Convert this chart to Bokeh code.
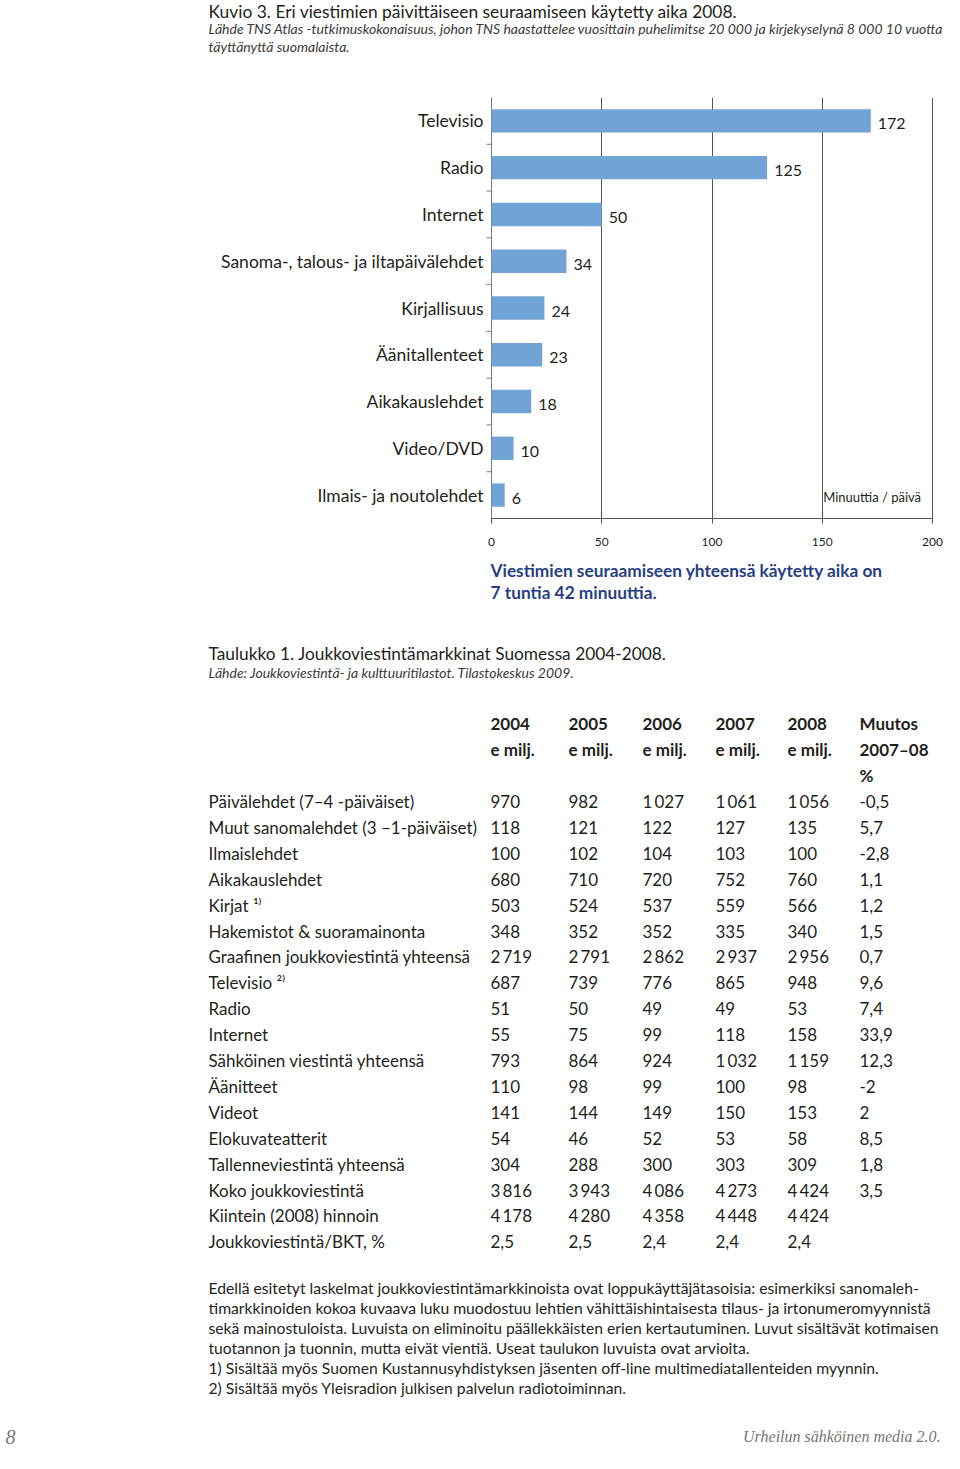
import math
from bokeh.plotting import figure
from bokeh.layouts import column
from bokeh.models import Range1d, FixedTicker, Label, ColumnDataSource, Grid
from bokeh.core.properties import value
from bokeh.embed import file_html
from bokeh.resources import INLINE

FONT = "Lato"
SERIF = "Liberation Serif"
TXT = "#231f20"
BAR = "#72a3d7"
BLUE_TXT = "#263f86"

# ---------------- data ----------------
title = "Kuvio 3. Eri viestimien päivittäiseen seuraamiseen käytetty aika 2008."
source_lines = [
    "Lähde TNS Atlas -tutkimuskokonaisuus, johon TNS haastattelee vuosittain puhelimitse 20 000 ja kirjekyselynä  8 000 10 vuotta",
    "täyttänyttä suomalaista.",
]
media = ["Televisio", "Radio", "Internet", "Sanoma-, talous- ja iltapäivälehdet",
         "Kirjallisuus", "Äänitallenteet", "Aikakauslehdet", "Video/DVD",
         "Ilmais- ja noutolehdet"]
minutes = [172, 125, 50, 34, 24, 23, 18, 10, 6]
x_ticks = [0, 50, 100, 150, 200]
unit_label = "Minuuttia / päivä"
summary_lines = ["Viestimien seuraamiseen yhteensä käytetty aika on",
                 "7 tuntia 42 minuuttia."]

table_title = "Taulukko 1. Joukkoviestintämarkkinat Suomessa 2004-2008."
table_source = "Lähde: Joukkoviestintä- ja kulttuuritilastot. Tilastokeskus 2009."
years = ["2004", "2005", "2006", "2007", "2008"]
unit_head = "e milj."
change_head = ["Muutos", "2007–08", "%"]
row_labels = [
    "Päivälehdet (7–4 -päiväiset)",
    "Muut sanomalehdet (3 –1-päiväiset)",
    "Ilmaislehdet",
    "Aikakauslehdet",
    "Kirjat \u00b9\u207e",
    "Hakemistot & suoramainonta",
    "Graafinen joukkoviestintä yhteensä",
    "Televisio \u00b2\u207e",
    "Radio",
    "Internet",
    "Sähköinen viestintä yhteensä",
    "Äänitteet",
    "Videot",
    "Elokuvateatterit",
    "Tallenneviestintä yhteensä",
    "Koko joukkoviestintä",
    "Kiintein (2008) hinnoin",
    "Joukkoviestintä/BKT, %",
]
v2004 = [970, 118, 100, 680, 503, 348, 2719, 687, 51, 55, 793, 110, 141, 54, 304, 3816, 4178, 2.5]
v2005 = [982, 121, 102, 710, 524, 352, 2791, 739, 50, 75, 864, 98, 144, 46, 288, 3943, 4280, 2.5]
v2006 = [1027, 122, 104, 720, 537, 352, 2862, 776, 49, 99, 924, 99, 149, 52, 300, 4086, 4358, 2.4]
v2007 = [1061, 127, 103, 752, 559, 335, 2937, 865, 49, 118, 1032, 100, 150, 53, 303, 4273, 4448, 2.4]
v2008 = [1056, 135, 100, 760, 566, 340, 2956, 948, 53, 158, 1159, 98, 153, 58, 309, 4424, 4424, 2.4]
change = [-0.5, 5.7, -2.8, 1.1, 1.2, 1.5, 0.7, 9.6, 7.4, 33.9, 12.3, -2, 2, 8.5, 1.8, 3.5, None, None]

notes = [
    "Edellä esitetyt laskelmat joukkoviestintämarkkinoista ovat loppukäyttäjätasoisia: esimerkiksi sanomaleh-",
    "timarkkinoiden kokoa kuvaava luku muodostuu lehtien vähittäishintaisesta tilaus- ja irtonumeromyynnistä",
    "sekä mainostuloista. Luvuista on eliminoitu päällekkäisten erien kertautuminen. Luvut sisältävät kotimaisen",
    "tuotannon ja tuonnin, mutta eivät vientiä. Useat taulukon luvuista ovat arvioita.",
    "1) Sisältää myös Suomen Kustannusyhdistyksen jäsenten off-line multimediatallenteiden myynnin.",
    "2) Sisältää myös Yleisradion julkisen palvelun radiotoiminnan.",
]
page_no = "8"
footer = "Urheilun sähköinen media 2.0."


def fmt(v):
    if v is None:
        return ""
    if isinstance(v, float):
        return f"{v:.1f}".replace(".", ",")
    return f"{v:,}".replace(",", "\u2009")


W = 944


def text_fig(h):
    p = figure(width=W, height=h, x_range=Range1d(0, W), y_range=Range1d(h, 0),
               x_axis_type=None, y_axis_type=None, output_backend="svg",
               toolbar_location=None, min_border=0)
    p.grid.visible = False
    p.outline_line_color = None
    return p


def put(p, xs, ys, texts, size, color=TXT, style="normal", align="left", font=FONT):
    p.text(x=xs, y=ys, text=texts, text_font=value(font), text_font_size=size,
           text_font_style=style, text_color=color, text_align=align,
           text_baseline="middle")


# ---------------- header ----------------
H1 = 88
head = text_fig(H1)
put(head, [208], [11], [title], "17.4px")
put(head, [208, 208], [28, 46], source_lines, "14px", color="#3a3a3a", style="italic")

# ---------------- bar chart ----------------
n = len(media)
ypos = [n - 0.5 - i for i in range(n)]
src = ColumnDataSource(dict(y=ypos, v=minutes, lab=[str(m) for m in minutes], name=media))

PLOT_L, PLOT_R = 491, 932           # pixel extent of the 0..200 scale
xmin, xmax = x_ticks[0], x_ticks[-1]
upp = (xmax - xmin) / (PLOT_R - PLOT_L)
H2 = 467
c = figure(width=W, height=H2,
           x_range=Range1d(xmin - PLOT_L * upp, xmax + (W - PLOT_R) * upp),
           y_range=Range1d(0, n), y_axis_type=None,
           output_backend="svg", toolbar_location=None,
           min_border_left=0, min_border_right=0, min_border_top=9,
           min_border_bottom=37)
c.outline_line_color = None

c.xgrid.ticker = FixedTicker(ticks=x_ticks[1:])
c.xgrid.grid_line_color = "#555555"
c.xgrid.grid_line_width = 1
c.add_layout(Grid(dimension=0, ticker=FixedTicker(ticks=[xmin]),
                  grid_line_color="#7a7a7a", grid_line_width=1))

c.hbar(y="y", left=0, right="v", height=0.5, source=src,
       fill_color=BAR, line_color=None)
c.text(x="v", y="y", text="lab", source=src, x_offset=7, y_offset=3,
       text_font=value(FONT), text_font_size="16px", text_baseline="middle",
       text_color=TXT)
# category labels (left "axis")
c.text(x=xmin, y="y", text="name", source=src, x_offset=-8,
       text_align="right", text_baseline="middle",
       text_font=value(FONT), text_font_size="17.5px", text_color=TXT)
# small ticks between categories
c.ray(x=xmin, y=[float(k) for k in range(1, n)], length=5,
      length_units="screen", angle=math.pi, line_color="#7a7a7a", line_width=1)

xa = c.xaxis[0]
xa.bounds = (xmin, xmax)
xa.ticker = FixedTicker(ticks=x_ticks)
xa.axis_line_color = "#555555"
xa.major_tick_line_color = "#555555"
xa.major_tick_out = 5
xa.major_tick_in = 0
xa.minor_tick_line_color = None
xa.major_label_standoff = 14
xa.major_label_text_font = FONT
xa.major_label_text_font_size = "12px"
xa.major_label_text_color = TXT

c.add_layout(Label(x=150, y=ypos[-1], text=unit_label, text_font=FONT,
                   text_font_size="13px", text_baseline="middle",
                   text_color=TXT, x_offset=1, y_offset=-2,
                   background_fill_color="white"))

# ---------------- table & notes ----------------
T0 = H1 + H2
H3 = 1453 - T0
t = text_fig(H3)
put(t, [490, 490], [570 - T0, 592 - T0], summary_lines, "17.3px", color=BLUE_TXT, style="bold")
put(t, [208], [653 - T0], [table_title], "17.3px")
put(t, [208], [672 - T0], [table_source], "14px", color="#3a3a3a", style="italic")

col_x = [490, 568, 642, 715, 787]
chg_x = 859
put(t, col_x, [723 - T0] * 5, years, "17px", style="bold")
put(t, col_x, [749 - T0] * 5, [unit_head] * 5, "17px", style="bold")
put(t, [chg_x] * 3, [723 - T0, 749 - T0, 775 - T0], change_head, "17px", style="bold")

row_y = [801 - T0 + i * 25.9 for i in range(len(row_labels))]
put(t, [208] * len(row_labels), row_y, row_labels, "17px")
for cx, vals in zip(col_x, [v2004, v2005, v2006, v2007, v2008]):
    put(t, [cx] * len(vals), row_y, [fmt(v) for v in vals], "17px")
put(t, [chg_x] * len(change), row_y, [fmt(v) for v in change], "17px")

note_y = [1287 - T0 + i * 20 for i in range(len(notes))]
put(t, [208] * len(notes), note_y, notes, "15.7px")

put(t, [5], [1436 - T0], [page_no], "20px", color="#777777", style="italic", font=SERIF)
put(t, [940], [1436 - T0], [footer], "16px", color="#777777", style="italic",
    align="right", font=SERIF)

layout = column(head, c, t, spacing=0)
open("out.html", "w").write(file_html(layout, INLINE))
